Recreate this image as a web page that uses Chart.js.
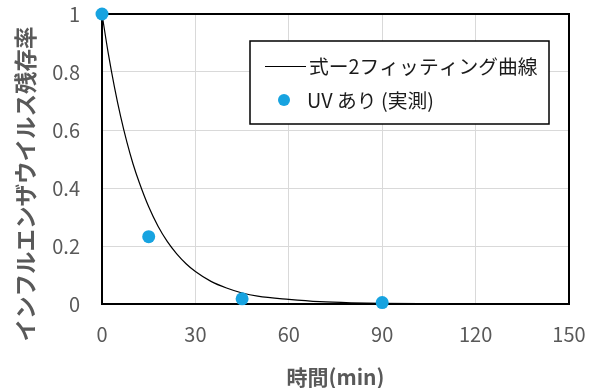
<!DOCTYPE html>
<html><head><meta charset="utf-8">
<script src="https://cdn.jsdelivr.net/npm/chart.js@4/dist/chart.umd.min.js"></script>
<style>html,body{margin:0;padding:0;background:#fff}#wrap{width:595px;height:388px;position:relative}</style>
</head><body><div id="wrap"><canvas id="c" width="595" height="388"></canvas></div>
<script>
const fitTime = [0,2,4,6,8,10,12,15,18,21,24,27,30,35,40,45,50,60,70,80,90,105,120,135,150];
const fitRate = [1.000,0.865,0.748,0.646,0.558,0.482,0.418,0.335,0.268,0.215,0.173,0.139,0.112,0.078,0.055,0.038,0.027,0.016,0.008,0.004,0.002,0.001,0.0005,0.0002,0.0001];
const obsTime = [0,15,45,90];
const obsRate = [1.0,0.232,0.018,0.005];
const xTicks = [0,30,60,90,120,150];
const yTicks = [0,0.2,0.4,0.6,0.8,1];
const seriesNames = ['式ー2フィッティング曲線','UV あり (実測)'];
const xTitle = '時間(min)';
const yTitle = 'インフルエンザウイルス残存率';

const FONT = "'Noto Sans CJK JP','Noto Sans',sans-serif";
const BLUE = '#17A3E0';

const extras = {
  id: 'extras',
  beforeDatasetsDraw(chart){
    const {ctx, chartArea:a} = chart;
    ctx.save();
    ctx.strokeStyle = '#000'; ctx.lineWidth = 2;
    ctx.strokeRect(a.left, a.top, a.right-a.left, a.bottom-a.top);
    ctx.restore();
  },
  afterDraw(chart){
    const {ctx, chartArea:a} = chart;
    ctx.save();
    const lx=250, ly=41, lw=299, lh=83;
    ctx.fillStyle='#fff'; ctx.fillRect(lx,ly,lw,lh);
    ctx.strokeStyle='#000'; ctx.lineWidth=1.5; ctx.strokeRect(lx,ly,lw,lh);
    ctx.strokeStyle='#000'; ctx.lineWidth=1.2;
    ctx.beginPath(); ctx.moveTo(265,66.5); ctx.lineTo(306,66.5); ctx.stroke();
    ctx.fillStyle=BLUE; ctx.beginPath(); ctx.arc(284,100,6,0,Math.PI*2); ctx.fill();
    ctx.fillStyle='#1a1a1a'; ctx.font='19.8px '+FONT; ctx.textBaseline='middle'; ctx.textAlign='left';
    ctx.fillText(seriesNames[0], 309, 66);
    ctx.fillText(seriesNames[1], 307, 100);
    ctx.fillStyle='#595959'; ctx.font='bold 21px '+FONT; ctx.textAlign='center';
    ctx.fillText(xTitle, (a.left+a.right)/2, 377);
    ctx.font='bold 22.5px '+FONT;
    ctx.translate(25,184); ctx.rotate(-Math.PI/2);
    ctx.fillText(yTitle, 0, 0);
    ctx.restore();
  }
};

new Chart(document.getElementById('c'), {
  type: 'scatter',
  data: {
    datasets: [
      { type:'line', label: seriesNames[0], data: fitTime.map((t,i)=>({x:t,y:fitRate[i]})),
        borderColor:'#000', borderWidth:1.2, pointRadius:0, cubicInterpolationMode:'monotone', fill:false, clip:false, order:2 },
      { label: seriesNames[1], data: obsTime.map((t,i)=>({x:t,y:obsRate[i]})),
        backgroundColor:BLUE, borderColor:BLUE, pointRadius:6.5, pointBorderWidth:0, clip:false, order:1 }
    ]
  },
  options: {
    responsive:false, animation:false,
    layout:{padding:{top:14,right:26,left:0,bottom:0}},
    plugins:{legend:{display:false}, tooltip:{enabled:false}},
    scales:{
      x:{ type:'linear', min:0, max:150,
          afterBuildTicks(s){ s.ticks = xTicks.map(v=>({value:v})); },
          afterFit(s){ s.height = 84; s.paddingLeft = 0; s.paddingRight = 0; },
          grid:{color:'#d9d9d9', lineWidth:1, drawTicks:false},
          border:{display:false},
          ticks:{ color:'#595959', font:{family:FONT,size:20}, padding:18, maxRotation:0, callback:v=>String(v) } },
      y:{ type:'linear', min:0, max:1,
          afterBuildTicks(s){ s.ticks = yTicks.map(v=>({value:v})); },
          afterFit(s){ s.width = 102; s.paddingTop = 0; s.paddingBottom = 0; },
          grid:{color:'#d9d9d9', lineWidth:1, drawTicks:false},
          border:{display:false},
          ticks:{ color:'#595959', font:{family:FONT,size:20}, padding:22, callback:v=>String(v) } }
    }
  },
  plugins:[extras]
});
</script></body></html>
